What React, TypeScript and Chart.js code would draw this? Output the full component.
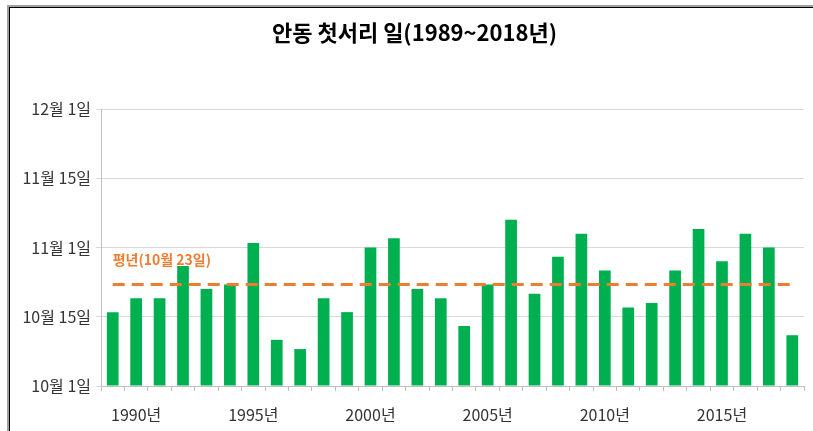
import React, { useEffect, useRef } from "react";
import { Chart, registerables } from "chart.js";

Chart.register(...registerables);

const TITLE = "안동 첫서리 일(1989~2018년)";
const YEARS = [
  1989, 1990, 1991, 1992, 1993, 1994, 1995, 1996, 1997, 1998,
  1999, 2000, 2001, 2002, 2003, 2004, 2005, 2006, 2007, 2008,
  2009, 2010, 2011, 2012, 2013, 2014, 2015, 2016, 2017, 2018,
];
// days after 10월 1일
const FIRST_FROST = [
  16, 19, 19, 26, 21, 22, 31, 10, 8, 19,
  16, 30, 32, 21, 19, 13, 22, 36, 20, 28,
  33, 25, 17, 18, 25, 34, 27, 33, 30, 11,
];
const NORMAL_VALUE = 22;
const NORMAL_LABEL = "평년(10월 23일)";
const Y_TICK_VALUES = [0, 15, 30, 45, 60];
const Y_TICK_LABELS = ["10월 1일", "10월 15일", "11월 1일", "11월 15일", "12월 1일"];

const FONT = "'Noto Sans CJK KR', 'Noto Sans', sans-serif";

export default function App() {
  const ref = useRef<HTMLCanvasElement | null>(null);

  useEffect(() => {
    if (!ref.current) return;
    const textPlugin = {
      id: "texts",
      afterDatasetsDraw(chart: any) {
        const { ctx, scales } = chart;
        const x = scales.x.getPixelForValue(0);
        const y = scales.y.getPixelForValue(NORMAL_VALUE) - 25;
        ctx.save();
        ctx.font = `bold 14px ${FONT}`;
        ctx.fillStyle = "#ED7D31";
        ctx.textAlign = "left";
        ctx.textBaseline = "middle";
        ctx.fillText(NORMAL_LABEL, x, y);
        ctx.font = `bold 22px ${FONT}`;
        ctx.fillStyle = "#000";
        ctx.textAlign = "center";
        ctx.fillText(TITLE, chart.width / 2 + 8, 33);
        ctx.restore();
      },
    };
    const chart = new Chart(ref.current, {
      type: "bar",
      data: {
        labels: YEARS.map((y) => `${y}년`),
        datasets: [
          {
            type: "line",
            label: "평년",
            data: YEARS.map(() => NORMAL_VALUE),
            borderColor: "#ED7D31",
            borderWidth: 3,
            borderDash: [12, 7],
            pointRadius: 0,
            fill: false,
            order: 0,
          } as any,
          {
            type: "bar",
            label: "첫서리",
            data: FIRST_FROST,
            backgroundColor: "#00B050",
            borderWidth: 0,
            categoryPercentage: 1,
            barPercentage: 0.5,
            order: 1,
          },
        ],
      },
      options: {
        responsive: false,
        animation: false,
        layout: { padding: { left: 0, right: 9, top: 109, bottom: 0 } },
        plugins: {
          legend: { display: false },
          tooltip: { enabled: false },
          title: { display: false },
        },
        scales: {
          x: {
            offset: true,
            grid: {
              offset: true,
              drawOnChartArea: false,
              drawTicks: true,
              tickLength: 5,
              color: "#bfbfbf",
            },
            border: { color: "#bfbfbf" },
            ticks: {
              autoSkip: false,
              maxRotation: 0,
              padding: 14,
              color: "#333",
              font: { family: FONT, size: 16 },
              callback: (_v: any, i: number) =>
                YEARS[i] % 5 === 0 ? `${YEARS[i]}년` : "",
            },
            afterFit: (s: any) => {
              s.height = 45;
            },
          },
          y: {
            min: 0,
            max: 60,
            afterBuildTicks: (s: any) => {
              s.ticks = Y_TICK_VALUES.map((v) => ({ value: v }));
            },
            grid: {
              color: "#d9d9d9",
              tickLength: 5,
            },
            border: { color: "#bfbfbf" },
            ticks: {
              padding: 5,
              color: "#333",
              font: { family: FONT, size: 16 },
              callback: (v: any) => {
                const i = Y_TICK_VALUES.indexOf(Number(v));
                return i >= 0 ? Y_TICK_LABELS[i] : "";
              },
            },
            afterFit: (s: any) => {
              s.width = 101;
            },
          },
        },
      },
      plugins: [textPlugin],
    });
    return () => chart.destroy();
  }, []);

  return (
    <div style={{ position: "fixed", left: 0, top: 0, width: 813, height: 431, background: "#fff" }}>
      <canvas ref={ref} width={813} height={431} style={{ position: "absolute", left: 0, top: 0 }} />
      <div
        style={{
          position: "absolute",
          left: 7,
          top: 5,
          right: 0,
          bottom: 0,
          borderTop: "2px solid #a0a0a0",
          borderLeft: "2px solid #a0a0a0",
          pointerEvents: "none",
        }}
      >
        <div
          style={{
            position: "absolute",
            left: 0,
            top: 0,
            right: 0,
            bottom: 0,
            borderTop: "1px solid #000",
            borderLeft: "1px solid #000",
          }}
        />
      </div>
    </div>
  );
}
